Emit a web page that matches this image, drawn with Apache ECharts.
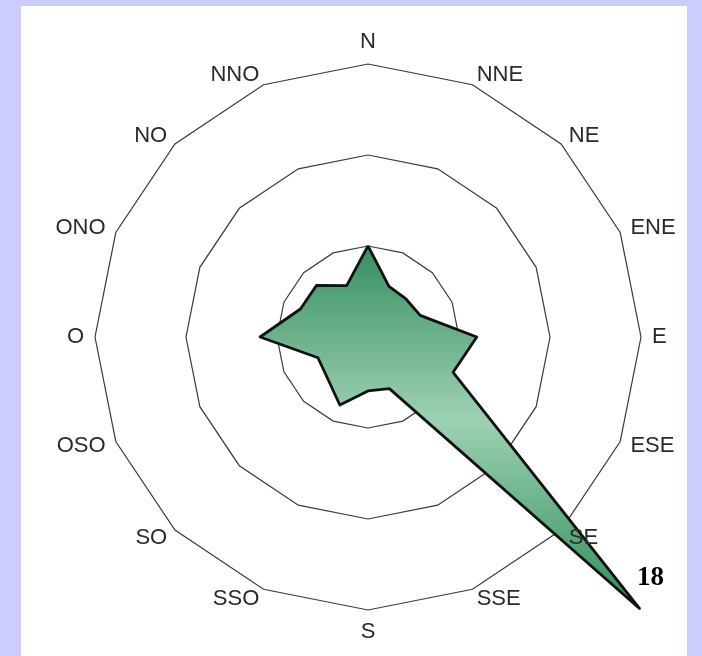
<!DOCTYPE html>
<html>
<head>
<meta charset="utf-8">
<script src="https://cdn.jsdelivr.net/npm/echarts@6/dist/echarts.min.js"></script>
<style>
  html, body { margin: 0; padding: 0; background: #ccccff; }
  #chart { width: 702px; height: 656px; }
</style>
</head>
<body>
<div id="chart"></div>
<script>
// Directions in compass (clockwise) order, starting at North
const directions = ['N','NNE','NE','ENE','E','ESE','SE','SSE','S','SSO','SO','OSO','O','ONO','NO','NNO'];
// Values (same order as directions)
const values = [4.27, 2.57, 2.52, 2.65, 5.1, 4.32, 18, 2.62, 2.53, 3.45, 2.7, 2.54, 5.06, 3.43, 3.42, 2.61];
const axisMax = 12.8;
const ringCount = 3;

// ECharts lays radar indicators out counter-clockwise; reorder for a clockwise compass
const order = [0];
for (let i = directions.length - 1; i >= 1; i--) order.push(i);
const indicators = order.map(i => ({ name: directions[i], max: axisMax, min: 0 }));
const seriesValues = order.map(i => values[i]);
const peak = Math.max.apply(null, values);

const baseRadar = {
  center: [368, 337],
  radius: 273,
  shape: 'polygon',
  splitNumber: ringCount,
  startAngle: 90,
  indicator: indicators,
  nameGap: 11,
  axisLine: { show: false },
  axisTick: { show: false },
  axisLabel: { show: false },
  splitArea: { show: false }
};

const chart = echarts.init(document.getElementById('chart'), null, { renderer: 'canvas' });
chart.setOption({
  backgroundColor: '#ccccff',
  animation: false,
  graphic: [{
    type: 'rect', z: -10, silent: true,
    shape: { x: 21, y: 6, width: 666, height: 660 },
    style: { fill: '#ffffff' }
  }],
  radar: [
    Object.assign({}, baseRadar, {
      z: 0,
      axisName: { show: false },
      splitLine: { lineStyle: { color: '#3a3a3a', width: 1.2 } }
    }),
    Object.assign({}, baseRadar, {
      z: 10,
      axisName: {
        color: '#2a2a2a',
        fontFamily: 'Liberation Sans, Arial, sans-serif',
        fontSize: 22
      },
      splitLine: { show: false }
    })
  ],
  series: [
    {
      type: 'radar',
      radarIndex: 0,
      z: 2,
      symbol: 'none',
      lineStyle: { width: 0, opacity: 0 },
      areaStyle: {
        opacity: 1,
        color: new echarts.graphic.LinearGradient(0, 0, 0, 1, [
          { offset: 0, color: '#378f60' },
          { offset: 0.48, color: '#9dd1b3' },
          { offset: 1, color: '#2f8f59' }
        ])
      },
      data: [{ value: seriesValues, name: 'Wind' }]
    },
    {
      type: 'radar',
      radarIndex: 0,
      z: 3,
      symbol: 'circle',
      symbolSize: 1,
      itemStyle: { color: 'rgba(0,0,0,0)' },
      lineStyle: { color: '#111111', width: 2.8 },
      label: {
        show: true,
        position: 'top',
        distance: 16,
        offset: [11, 0],
        color: '#000000',
        fontFamily: 'Liberation Serif, Times New Roman, serif',
        fontWeight: 'bold',
        fontSize: 27,
        formatter: p => (p.value === peak ? String(p.value) : '')
      },
      data: [{ value: seriesValues, name: 'Wind' }]
    }
  ]
});
</script>
</body>
</html>
